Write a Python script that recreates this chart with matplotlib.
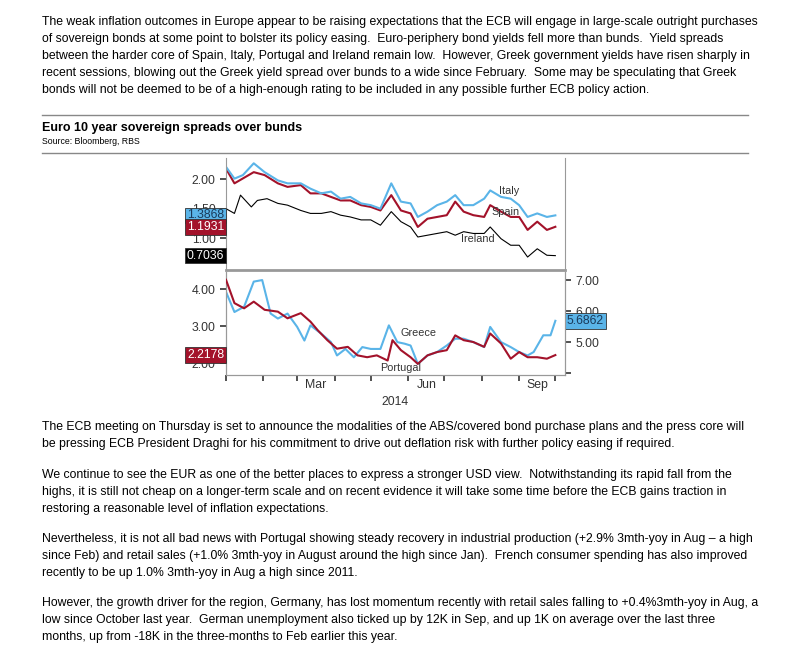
import matplotlib
matplotlib.use("Agg")
import matplotlib.pyplot as plt

plt.rcParams['font.family'] = ['Liberation Sans', 'DejaVu Sans']

# ---- data (day of 2014, spread in pct points) ----
italy_days = [0, 7, 14, 23, 32, 43, 51, 62, 70, 79, 87, 95, 103, 112, 120, 128, 137, 145, 153, 159,
              167, 175, 183, 190, 197, 205, 214, 219, 228, 236, 243, 250, 258, 266, 273]
italy = [2.21, 2.01, 2.07, 2.27, 2.12, 1.98, 1.93, 1.93, 1.84, 1.76, 1.79, 1.67, 1.70, 1.59, 1.56, 1.50,
         1.93, 1.62, 1.59, 1.36, 1.45, 1.56, 1.62, 1.73, 1.56, 1.56, 1.67, 1.81, 1.70, 1.67, 1.56, 1.36,
         1.42, 1.36, 1.3868]
spain_days = [0, 7, 23, 32, 43, 51, 62, 70, 79, 87, 95, 103, 112, 120, 128, 137, 145, 153, 159,
              167, 175, 183, 190, 197, 205, 214, 219, 228, 236, 243, 250, 258, 266, 273]
spain = [2.18, 1.93, 2.12, 2.07, 1.93, 1.87, 1.90, 1.76, 1.76, 1.70, 1.64, 1.64, 1.56, 1.53, 1.47, 1.73,
         1.47, 1.42, 1.19, 1.33, 1.36, 1.39, 1.62, 1.45, 1.39, 1.36, 1.56, 1.45, 1.36, 1.36, 1.14, 1.28,
         1.14, 1.1931]
ireland_days = [0, 7, 12, 21, 26, 34, 43, 51, 62, 70, 79, 87, 95, 103, 112, 120, 128, 137, 145, 153, 159,
                167, 175, 183, 190, 197, 205, 214, 219, 228, 236, 243, 250, 258, 266, 273]
ireland = [1.50, 1.42, 1.73, 1.53, 1.64, 1.67, 1.59, 1.56, 1.47, 1.42, 1.42, 1.45, 1.39, 1.36, 1.31, 1.31,
           1.22, 1.45, 1.28, 1.19, 1.02, 1.05, 1.08, 1.11, 1.05, 1.11, 1.08, 1.08, 1.19, 0.99, 0.88, 0.88,
           0.68, 0.82, 0.71, 0.7036]
portugal_days = [0, 7, 15, 23, 32, 43, 51, 62, 70, 76, 84, 92, 101, 109, 117, 125, 134, 138, 145, 153, 159,
                 167, 175, 183, 190, 197, 205, 214, 219, 228, 236, 243, 250, 258, 266, 273]
portugal = [4.25, 3.62, 3.48, 3.66, 3.44, 3.39, 3.21, 3.35, 3.12, 2.89, 2.62, 2.39, 2.44, 2.21, 2.16, 2.21,
            2.07, 2.62, 2.35, 2.16, 1.98, 2.21, 2.30, 2.35, 2.75, 2.62, 2.57, 2.44, 2.80, 2.53, 2.12, 2.30,
            2.16, 2.16, 2.12, 2.2178]
greece_days = [0, 7, 15, 23, 30, 37, 43, 51, 59, 65, 70, 79, 87, 92, 99, 106, 113, 120, 128, 135, 142, 148,
               153, 159, 167, 175, 183, 190, 197, 205, 214, 219, 228, 236, 243, 250, 255, 263, 269, 273]
greece = [6.62, 5.97, 6.14, 6.95, 7.00, 5.92, 5.76, 5.92, 5.49, 5.05, 5.54, 5.27, 5.00, 4.57, 4.78, 4.51,
          4.84, 4.78, 4.78, 5.54, 5.00, 4.95, 4.89, 4.30, 4.57, 4.68, 4.89, 5.11, 5.11, 5.00, 4.84, 5.49,
          5.00, 4.84, 4.68, 4.57, 4.68, 5.22, 5.22, 5.6862]

month_starts = [0, 31, 59, 90, 120, 151, 181, 212, 243, 273]
month_labels = {"Mar": 74.5, "Jun": 166, "Sep": 258}

BLUE = "#5ab4e8"
RED = "#a3122a"

para1 = [
    "The weak inflation outcomes in Europe appear to be raising expectations that the ECB will engage in large-scale outright purchases",
    "of sovereign bonds at some point to bolster its policy easing.  Euro-periphery bond yields fell more than bunds.  Yield spreads",
    "between the harder core of Spain, Italy, Portugal and Ireland remain low.  However, Greek government yields have risen sharply in",
    "recent sessions, blowing out the Greek yield spread over bunds to a wide since February.  Some may be speculating that Greek",
    "bonds will not be deemed to be of a high-enough rating to be included in any possible further ECB policy action.",
]
paras_below = [
    (427, ["The ECB meeting on Thursday is set to announce the modalities of the ABS/covered bond purchase plans and the press core will",
           "be pressing ECB President Draghi for his commitment to drive out deflation risk with further policy easing if required."]),
    (475, ["We continue to see the EUR as one of the better places to express a stronger USD view.  Notwithstanding its rapid fall from the",
           "highs, it is still not cheap on a longer-term scale and on recent evidence it will take some time before the ECB gains traction in",
           "restoring a reasonable level of inflation expectations."]),
    (539, ["Nevertheless, it is not all bad news with Portugal showing steady recovery in industrial production (+2.9% 3mth-yoy in Aug \u2013 a high",
           "since Feb) and retail sales (+1.0% 3mth-yoy in August around the high since Jan).  French consumer spending has also improved",
           "recently to be up 1.0% 3mth-yoy in Aug a high since 2011."]),
    (603, ["However, the growth driver for the region, Germany, has lost momentum recently with retail sales falling to +0.4%3mth-yoy in Aug, a",
           "low since October last year.  German unemployment also ticked up by 12K in Sep, and up 1K on average over the last three",
           "months, up from -18K in the three-months to Feb earlier this year."]),
]

W, H = 787, 657
fig = plt.figure(figsize=(W / 100, H / 100), dpi=100)


def fx(px):
    return px / W


def fy(py):
    return 1 - py / H


fs = 8.8
for i, line in enumerate(para1):
    fig.text(fx(42), fy(22 + i * 17), line, fontsize=fs, va="center")
for y0, lines in paras_below:
    for i, line in enumerate(lines):
        fig.text(fx(42), fy(y0 + i * 17), line, fontsize=fs, va="center")

for yy in (115, 153):
    fig.add_artist(plt.Line2D([fx(42), fx(748)], [fy(yy), fy(yy)], color="#888888", lw=1))
fig.text(fx(42), fy(128), "Euro 10 year sovereign spreads over bunds", fontsize=9, weight="bold", va="center")
fig.text(fx(42), fy(142), "Source: Bloomberg, RBS", fontsize=6.3, va="center")

left, right = fx(226), fx(565)
ax1 = fig.add_axes([left, fy(270), right - left, fy(158) - fy(270)])
ax2 = fig.add_axes([left, fy(375), right - left, fy(272) - fy(375)])
ax2r = ax2.twinx()

ax1.plot(ireland_days, ireland, color="black", lw=0.8)
ax1.plot(spain_days, spain, color=RED, lw=1.5)
ax1.plot(italy_days, italy, color=BLUE, lw=1.5)
ax1.set_ylim(0.46, 2.36)
ax1.set_yticks([1.0, 1.5, 2.0])
ax1.set_yticklabels(["1.00", "1.50", "2.00"])

ax2.plot(portugal_days, portugal, color=RED, lw=1.5, zorder=3)
ax2.set_ylim(1.68, 4.46)
ax2.set_yticks([2.0, 3.0, 4.0])
ax2.set_yticklabels(["2.00", "3.00", "4.00"])
ax2r.plot(greece_days, greece, color=BLUE, lw=1.5, zorder=2)
ax2r.set_ylim(3.94, 7.26)
ax2r.set_yticks([4.0, 5.0, 6.0, 7.0])
ax2r.set_yticklabels(["", "5.00", "6.00", "7.00"])
ax2.set_zorder(ax2r.get_zorder() + 1)
ax2.patch.set_visible(False)

for ax in (ax1, ax2, ax2r):
    ax.set_xlim(0, 281)
    for s in ax.spines.values():
        s.set_color("#999999")
    ax.tick_params(labelsize=8.8, colors="#333333", length=4, width=1.2)
ax1.spines["top"].set_visible(False)
ax1.spines["bottom"].set_color("#999999")
ax1.spines["bottom"].set_linewidth(2)
ax1.set_xticks([])
ax2.spines["top"].set_visible(False)
ax2r.spines["top"].set_visible(False)
ax2.set_xticks(month_starts)
ax2.set_xticklabels([])
ax2.tick_params(axis="x", length=4)
for lab, d in month_labels.items():
    ax2.text(d, -0.04, lab, transform=ax2.get_xaxis_transform(), ha="center", va="top", fontsize=8.8, color="#333333")
ax2.text(0.5, -0.2, "2014", transform=ax2.transAxes, ha="center", va="top", fontsize=8.8, color="#333333")

# series labels
ax1.text(226, 1.75, "Italy", fontsize=7.8, color="#333333")
ax1.text(220, 1.40, "Spain", fontsize=7.8, color="#333333")
ax1.text(195, 0.93, "Ireland", fontsize=7.8, color="#333333")
ax2r.text(145, 5.2, "Greece", fontsize=7.8, color="#333333")
ax2.text(128, 1.78, "Portugal", fontsize=7.8, color="#333333")


def tag(ax, y, text, color, side="left"):
    x = -0.005 if side == "left" else 1.005
    ha = "right" if side == "left" else "left"
    ax.annotate(text, xy=(x, y), xycoords=("axes fraction", "data"), ha=ha, va="center",
                fontsize=8.8, color="white" if color != BLUE else "#1a3a5a",
                bbox=dict(boxstyle="square,pad=0.15", fc=color, ec="#333333", lw=0.6),
                annotation_clip=False)


tag(ax1, italy[-1], "1.3868", BLUE)
tag(ax1, spain[-1], "1.1931", RED)
tag(ax1, ireland[-1], "0.7036", "black")
tag(ax2, portugal[-1], "2.2178", RED)
tag(ax2r, greece[-1], "5.6862", BLUE, side="right")

fig.savefig("out.png", dpi=100)
